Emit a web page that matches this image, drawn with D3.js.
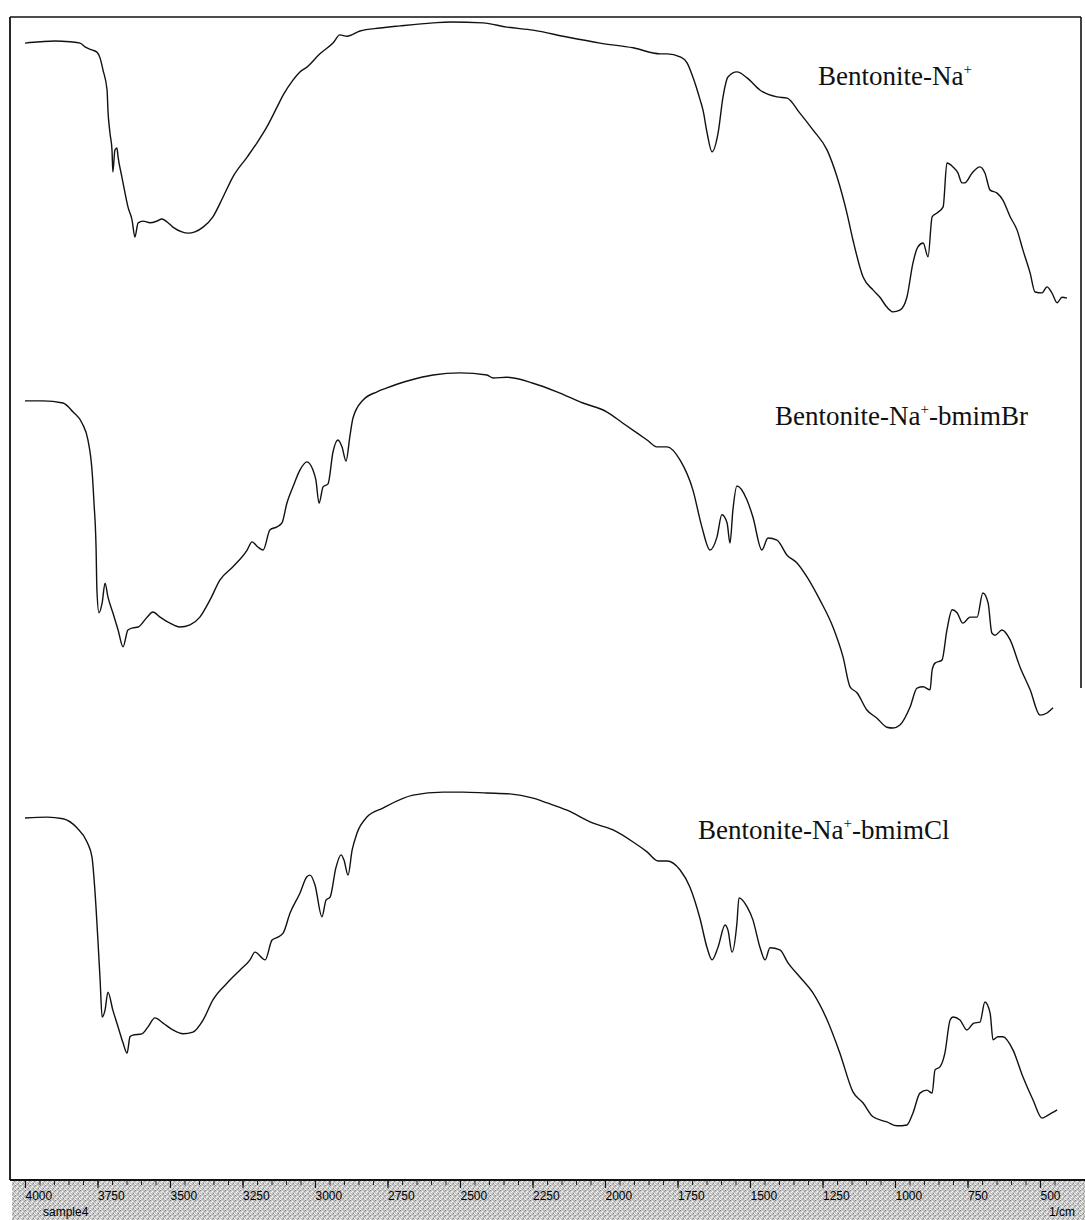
<!DOCTYPE html>
<html>
<head>
<meta charset="utf-8">
<script src="https://cdn.jsdelivr.net/npm/d3@7/dist/d3.min.js"></script>
<style>
  html, body { margin: 0; padding: 0; background: #fff; }
  svg { display: block; }
</style>
</head>
<body>
<svg id="chart" width="1085" height="1220"></svg>
<script>
// FTIR transmittance spectra, [wavenumber (1/cm), %T (arbitrary, before stacking offset)]
const bentoniteNa = [
  [4000,84.4],[3948,84.7],[3897,84.9],[3845,84.7],[3810,84.4],[3793,83.5],[3769,82.8],[3752,82.3],
  [3741,80.9],[3731,78.1],[3717,73.5],[3714,68.8],[3707,63.5],[3700,59.5],[3697,54.4],[3690,59.5],
  [3683,60.0],[3679,57.9],[3666,53.3],[3655,49.5],[3645,46.3],[3631,43.3],[3621,39.3],[3610,42.6],
  [3593,43.0],[3569,42.6],[3545,43.0],[3528,43.5],[3510,42.8],[3490,41.6],[3459,40.5],[3438,40.2],
  [3414,40.5],[3386,41.6],[3352,44.0],[3317,48.6],[3283,53.3],[3234,57.9],[3200,61.2],[3166,64.9],
  [3131,69.5],[3110,72.3],[3076,75.8],[3052,77.7],[3028,78.8],[2983,81.9],[2938,84.4],[2914,86.3],
  [2890,86.0],[2845,87.2],[2776,87.9],[2707,88.4],[2593,89.1],[2534,89.3],[2421,89.1],[2338,88.1],
  [2248,87.4],[2131,85.8],[2017,84.4],[1903,83.3],[1810,81.9],[1786,81.9],[1741,81.2],[1717,79.8],
  [1697,76.5],[1672,71.2],[1662,68.8],[1648,63.5],[1631,59.1],[1610,63.5],[1593,71.9],[1576,76.5],
  [1545,77.7],[1510,76.3],[1466,73.5],[1407,71.9],[1372,71.6],[1328,68.1],[1283,64.2],[1234,59.5],
  [1200,53.3],[1166,44.9],[1145,38.6],[1110,30.0],[1076,27.0],[1052,25.3],[1028,23.0],[1007,21.9],
  [983,22.3],[959,25.3],[938,33.3],[921,37.0],[903,37.9],[886,34.7],[872,44.0],[855,44.9],
  [834,46.3],[821,56.5],[800,55.6],[783,54.2],[769,51.9],[759,51.9],[734,54.2],[707,55.6],
  [690,54.2],[672,50.2],[648,49.5],[628,47.9],[603,44.0],[579,40.9],[559,36.3],[534,30.9],
  [517,26.5],[493,26.3],[476,27.7],[459,26.3],[441,24.0],[424,25.3],[407,25.1]
];

const bentoniteBmimBr = [
  [4000,91.2],[3938,91.2],[3869,90.7],[3834,88.6],[3803,86.0],[3783,82.1],[3769,75.1],[3762,67.4],
  [3755,57.2],[3752,47.2],[3745,41.9],[3734,44.2],[3724,48.8],[3714,45.6],[3697,41.9],[3679,37.9],
  [3662,34.0],[3645,37.9],[3628,38.4],[3610,38.6],[3579,40.9],[3559,42.1],[3534,40.9],[3500,39.5],
  [3466,38.6],[3431,39.1],[3397,40.9],[3362,44.9],[3328,49.5],[3283,52.6],[3234,56.5],[3217,58.4],
  [3197,57.2],[3179,56.5],[3155,61.2],[3131,61.9],[3114,62.8],[3097,67.4],[3076,71.2],[3052,75.1],
  [3028,77.0],[3007,75.1],[2997,72.8],[2986,67.4],[2972,71.2],[2955,71.9],[2938,79.3],[2921,82.1],
  [2907,80.5],[2893,77.2],[2879,83.3],[2869,87.2],[2834,91.4],[2786,93.3],[2752,94.2],[2707,95.3],
  [2672,96.0],[2593,97.2],[2500,97.7],[2407,97.2],[2386,96.5],[2338,96.7],[2248,95.3],[2166,93.3],
  [2076,90.7],[1993,88.6],[1938,86.0],[1855,82.1],[1821,80.5],[1786,80.5],[1741,77.4],[1697,70.5],
  [1666,61.9],[1638,56.5],[1614,59.5],[1597,64.7],[1579,62.8],[1569,58.1],[1559,65.8],[1545,71.4],
  [1510,68.1],[1490,64.2],[1459,56.5],[1438,59.3],[1407,58.8],[1372,55.3],[1338,53.5],[1303,50.2],
  [1259,44.9],[1214,38.6],[1179,31.6],[1155,24.7],[1131,23.3],[1097,19.3],[1062,17.4],[1028,15.3],
  [1007,15.1],[983,15.8],[948,20.0],[924,24.4],[903,24.7],[879,24.0],[872,28.6],[862,30.2],
  [838,30.9],[821,37.9],[803,42.6],[786,41.9],[766,39.5],[741,40.9],[717,40.9],[697,46.5],
  [679,44.2],[666,37.2],[655,36.7],[631,37.9],[603,35.6],[569,29.3],[534,24.0],[500,18.1],
  [476,18.6],[455,19.8]
];

const bentoniteBmimCl = [
  [4000,84.2],[3924,84.4],[3869,84.0],[3821,81.9],[3786,78.6],[3769,75.1],[3759,67.4],[3748,55.1],
  [3741,46.5],[3734,37.9],[3724,39.5],[3714,43.7],[3697,39.5],[3679,35.6],[3662,31.9],[3648,29.5],
  [3638,33.3],[3628,33.7],[3597,34.0],[3576,35.6],[3552,37.7],[3524,36.5],[3490,34.9],[3455,34.0],
  [3421,34.4],[3386,37.2],[3352,41.9],[3303,45.8],[3259,48.8],[3224,51.2],[3207,53.0],[3172,51.2],
  [3148,55.8],[3128,56.5],[3110,57.4],[3086,62.1],[3052,66.7],[3028,70.5],[3017,70.9],[3000,68.6],
  [2976,61.2],[2962,65.1],[2948,65.8],[2928,72.6],[2910,75.6],[2900,74.4],[2886,70.9],[2872,76.7],
  [2855,80.7],[2821,84.4],[2766,86.5],[2662,89.5],[2559,90.2],[2490,90.2],[2407,90.0],[2328,89.8],
  [2248,88.8],[2200,87.7],[2131,86.0],[2041,83.0],[1972,81.4],[1903,78.6],[1855,76.3],[1817,74.2],
  [1786,74.2],[1741,72.1],[1707,68.1],[1672,60.7],[1648,54.0],[1631,51.2],[1610,54.2],[1586,59.3],
  [1576,58.1],[1562,53.0],[1545,59.8],[1538,65.6],[1510,63.5],[1490,60.5],[1466,54.2],[1448,51.2],
  [1431,54.0],[1397,53.5],[1369,50.5],[1328,47.2],[1283,43.5],[1234,37.2],[1190,29.5],[1145,20.5],
  [1110,17.9],[1076,14.7],[1028,13.5],[993,12.6],[959,12.8],[938,15.6],[914,20.2],[890,20.9],
  [872,20.2],[862,25.6],[845,26.3],[828,29.5],[810,37.2],[800,37.9],[776,37.2],[752,34.9],
  [728,36.5],[707,36.7],[690,41.4],[672,38.8],[662,32.6],[645,33.3],[628,33.3],[593,30.2],
  [559,24.0],[524,18.6],[493,14.4],[472,15.1],[441,16.3]
];

// Sample names: base text, superscript, suffix
const sampleNames = [
  ["Bentonite-Na", "+", ""],
  ["Bentonite-Na", "+", "-bmimBr"],
  ["Bentonite-Na", "+", "-bmimCl"]
];

// Vertical stacking offsets (%T units) for the three traces, top to bottom
const stackOffsets = [180, 90, 0];

// Axis tick values and labels
const majorTicks = [4000, 3750, 3500, 3250, 3000, 2750, 2500, 2250, 2000, 1750, 1500, 1250, 1000, 750, 500];
const tickLabels = ["4000", "3750", "3500", "3250", "3000", "2750", "2500", "2250", "2000", "1750", "1500", "1250", "1000", "750", "500"];
const minorTicks = d3.range(4000, 449, -50);

const spectra = [bentoniteNa, bentoniteBmimBr, bentoniteBmimCl];

// ---- layout ----
const W = 1085, H = 1220;
const frame = { left: 10, right: 1081, top: 17, bottom: 1180 };

const svg = d3.select("#chart");

const x = d3.scaleLinear().domain([4000, 400]).range([25, 1069]);
const y = d3.scaleLinear().domain([0, 270]).range([frame.bottom, 19]);

// dithered grey fill used by the axis strip
const defs = svg.append("defs");
const pat = defs.append("pattern")
  .attr("id", "dither").attr("width", 5).attr("height", 5)
  .attr("patternUnits", "userSpaceOnUse");
pat.append("rect").attr("width", 5).attr("height", 5).attr("fill", "#c8c8c8");
[[0,0,"#808080"],[2,1,"#ffffff"],[4,1,"#9a9a9a"],[1,2,"#f4f4f4"],[3,3,"#888888"],[0,4,"#ffffff"],[2,4,"#a8a8a8"],[4,3,"#ececec"]]
  .forEach(([px, py, c]) => pat.append("rect").attr("x", px).attr("y", py).attr("width", 1).attr("height", 1).attr("fill", c));

// axis strip
svg.append("rect")
  .attr("x", 12).attr("y", frame.bottom)
  .attr("width", W - 12).attr("height", H - frame.bottom)
  .attr("fill", "url(#dither)");

// frame
const frameG = svg.append("g").attr("stroke", "#111").attr("fill", "none");
frameG.append("line").attr("x1", frame.left).attr("x2", frame.right).attr("y1", frame.top).attr("y2", frame.top).attr("stroke-width", 1.6);
frameG.append("line").attr("x1", frame.left).attr("x2", frame.left).attr("y1", frame.top).attr("y2", frame.bottom).attr("stroke-width", 1.8);
frameG.append("line").attr("x1", frame.right).attr("x2", frame.right).attr("y1", frame.top).attr("y2", 688).attr("stroke-width", 1.6);
frameG.append("line").attr("x1", frame.left).attr("x2", W).attr("y1", frame.bottom).attr("y2", frame.bottom).attr("stroke-width", 1.8);

// bottom wavenumber axis
const axisG = svg.append("g").attr("transform", `translate(0,${frame.bottom})`);
axisG.call(d3.axisBottom(x).tickValues(minorTicks).tickSize(5).tickFormat(""))
  .call(g => g.select(".domain").remove())
  .call(g => g.selectAll("line").attr("stroke", "#222").attr("stroke-width", 1));
const majorG = svg.append("g").attr("transform", `translate(0,${frame.bottom})`);
majorG.call(d3.axisBottom(x).tickValues(majorTicks).tickSize(8)
    .tickFormat((d, i) => tickLabels[i]))
  .call(g => g.select(".domain").remove())
  .call(g => g.selectAll("line").attr("stroke", "#111").attr("stroke-width", 1.2))
  .call(g => g.selectAll("text")
    .attr("text-anchor", "start")
    .attr("x", 0).attr("y", 11).attr("dy", "0.71em")
    .attr("fill", "#000")
    .style("font-family", "'Liberation Sans', Arial, sans-serif")
    .style("font-size", "12px"));

svg.append("text").attr("x", 43).attr("y", 1216)
  .style("font-family", "'Liberation Sans', Arial, sans-serif").style("font-size", "12px")
  .attr("fill", "#000").text("sample4");
svg.append("text").attr("x", 1049).attr("y", 1216)
  .style("font-family", "'Liberation Sans', Arial, sans-serif").style("font-size", "12px")
  .attr("fill", "#000").text("1/cm");

// spectra
const line = (offset) => d3.line()
  .x(d => x(d[0]))
  .y(d => y(d[1] + offset))
  .curve(d3.curveMonotoneX);

svg.append("g").selectAll("path")
  .data(spectra)
  .join("path")
  .attr("d", (d, i) => line(stackOffsets[i])(d))
  .attr("fill", "none")
  .attr("stroke", "#111")
  .attr("stroke-width", 1.4)
  .attr("stroke-linejoin", "round");

// sample labels
const labelAnchors = [[818, 85], [775, 425], [698, 839]];
const labels = svg.append("g")
  .style("font-family", "'Liberation Serif', 'Times New Roman', serif")
  .style("font-size", "27px")
  .attr("fill", "#111");
sampleNames.forEach((n, i) => {
  const t = labels.append("text").attr("x", labelAnchors[i][0]).attr("y", labelAnchors[i][1]);
  t.append("tspan").text(n[0]);
  t.append("tspan").attr("dy", -11).style("font-size", "15px").text(n[1]);
  t.append("tspan").attr("dy", 11).text(n[2]);
});
</script>
</body>
</html>
